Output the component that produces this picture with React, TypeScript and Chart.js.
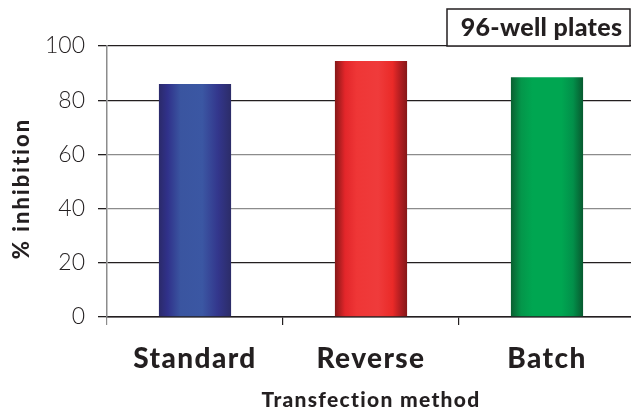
import React, { useEffect, useRef } from "react";
import { Chart, registerables } from "chart.js";

Chart.register(...registerables);

const categories = ["Standard", "Reverse", "Batch"];
const inhibition = [86, 94.5, 88.5];
const yTicks = [0, 20, 40, 60, 80, 100];
const yTitle = "% inhibition";
const xTitle = "Transfection method";
const boxLabel = "96-well plates";

const gradientStops: [number, string][][] = [
  [
    [0, "#2b2a6a"],
    [0.12, "#30318a"],
    [0.3, "#3a55a0"],
    [0.6, "#3b57a3"],
    [0.82, "#33368c"],
    [1, "#2c2c68"],
  ],
  [
    [0, "#861818"],
    [0.14, "#e3262a"],
    [0.3, "#ef3636"],
    [0.6, "#ef3b3b"],
    [0.8, "#ea2a28"],
    [0.9, "#b51e21"],
    [1, "#851818"],
  ],
  [
    [0, "#0a5f31"],
    [0.14, "#04964a"],
    [0.3, "#00a651"],
    [0.7, "#00a651"],
    [0.86, "#02904a"],
    [1, "#075a2f"],
  ],
];
const solidColors = ["#3a55a0", "#ef3b3b", "#00a651"];

const BAR_PCT = 0.41;
const DARK = "#231f20";
const GRAY = "#8c8c8c";
const FAMILY = "Lato, 'DejaVu Sans', sans-serif";

const labelsPlugin = {
  id: "extraLabels",
  afterDatasetsDraw(chart: any) {
    // x tick labels (ticks.z = 1) are drawn after this hook; widen their tracking
    (chart.ctx as any).letterSpacing = "1.4px";
  },
  afterDraw(chart: any) {
    const { ctx, chartArea } = chart;
    (ctx as any).letterSpacing = "0px";
    const top = chartArea.top - 37;
    const left = 447;
    const right = 630;
    const bottom = chartArea.top;
    ctx.save();
    ctx.fillStyle = "#ffffff";
    ctx.fillRect(left, top, right - left, bottom - top);
    ctx.strokeStyle = DARK;
    ctx.lineWidth = 1.5;
    ctx.strokeRect(left, top, right - left, bottom - top);
    ctx.fillStyle = DARK;
    ctx.font = `900 25px ${FAMILY}`;
    ctx.textAlign = "center";
    ctx.textBaseline = "middle";
    (ctx as any).letterSpacing = "0.3px";
    ctx.fillText(boxLabel, (left + right) / 2 + 3, (top + bottom) / 2);

    // x-axis title
    ctx.font = `900 21px ${FAMILY}`;
    (ctx as any).letterSpacing = "1.3px";
    ctx.fillText(xTitle, (chartArea.left + chartArea.right) / 2, chartArea.bottom + 83);

    // y-axis title
    ctx.translate(22, (chartArea.top + chartArea.bottom) / 2 + 7);
    ctx.rotate(-Math.PI / 2);
    ctx.font = `900 22px ${FAMILY}`;
    (ctx as any).letterSpacing = "2px";
    ctx.fillText(yTitle, 0, 0);
    ctx.restore();
    (ctx as any).letterSpacing = "0px";
  },
};

export default function App() {
  const ref = useRef<HTMLCanvasElement>(null);
  useEffect(() => {
    if (!ref.current) return;
    const chart = new Chart(ref.current, {
      type: "bar",
      data: {
        labels: categories,
        datasets: [
          {
            data: inhibition,
            barPercentage: BAR_PCT,
            categoryPercentage: 1,
            borderWidth: 0,
            backgroundColor: (c: any) => {
              const ch = c.chart;
              const i = c.dataIndex;
              if (!ch.chartArea || !ch.scales.x || i === undefined) return solidColors[i ?? 0];
              const xs = ch.scales.x;
              const cx = xs.getPixelForValue(i);
              const half = (xs.width / categories.length) * BAR_PCT / 2;
              const g = ch.ctx.createLinearGradient(cx - half, 0, cx + half, 0);
              for (const [o, col] of gradientStops[i]) g.addColorStop(o, col);
              return g;
            },
          },
        ],
      },
      options: {
        responsive: false,
        animation: false,
        layout: { padding: { top: 46, right: 5, left: 0, bottom: 0 } },
        plugins: { legend: { display: false }, tooltip: { enabled: false } },
        scales: {
          x: {
            afterFit: (s: any) => {
              s.height = 92;
            },
            grid: {
              drawOnChartArea: false,
              tickLength: 8,
              color: (c: any) => (c.index === 0 ? GRAY : DARK),
              lineWidth: 1.2,
            },
            border: { color: DARK, width: 1.5 },
            ticks: {
              z: 1,
              color: DARK,
              padding: 17,
              font: { family: FAMILY, size: 28, weight: "900" },
            },
          },
          y: {
            min: 0,
            max: 100,
            afterFit: (s: any) => {
              s.width = 107;
            },
            afterBuildTicks: (s: any) => {
              s.ticks = yTicks.map((v) => ({ value: v }));
            },
            grid: {
              color: (c: any) => (c.tick && (c.tick.value === 40 || c.tick.value === 60) ? GRAY : DARK),
              tickColor: DARK,
              tickLength: 9,
              lineWidth: 1.3,
            },
            border: { color: GRAY, width: 1.5 },
            ticks: {
              color: DARK,
              padding: 13,
              font: { family: FAMILY, size: 23, weight: "300" },
            },
          },
        },
      },
      plugins: [labelsPlugin],
    });
    return () => chart.destroy();
  }, []);
  return (
    <div style={{ position: "absolute", left: 0, top: 0, width: 631, height: 409, overflow: "hidden", background: "#fff" }}>
      <canvas ref={ref} width={640} height={409} style={{ width: 640, height: 409, display: "block" }} />
    </div>
  );
}
